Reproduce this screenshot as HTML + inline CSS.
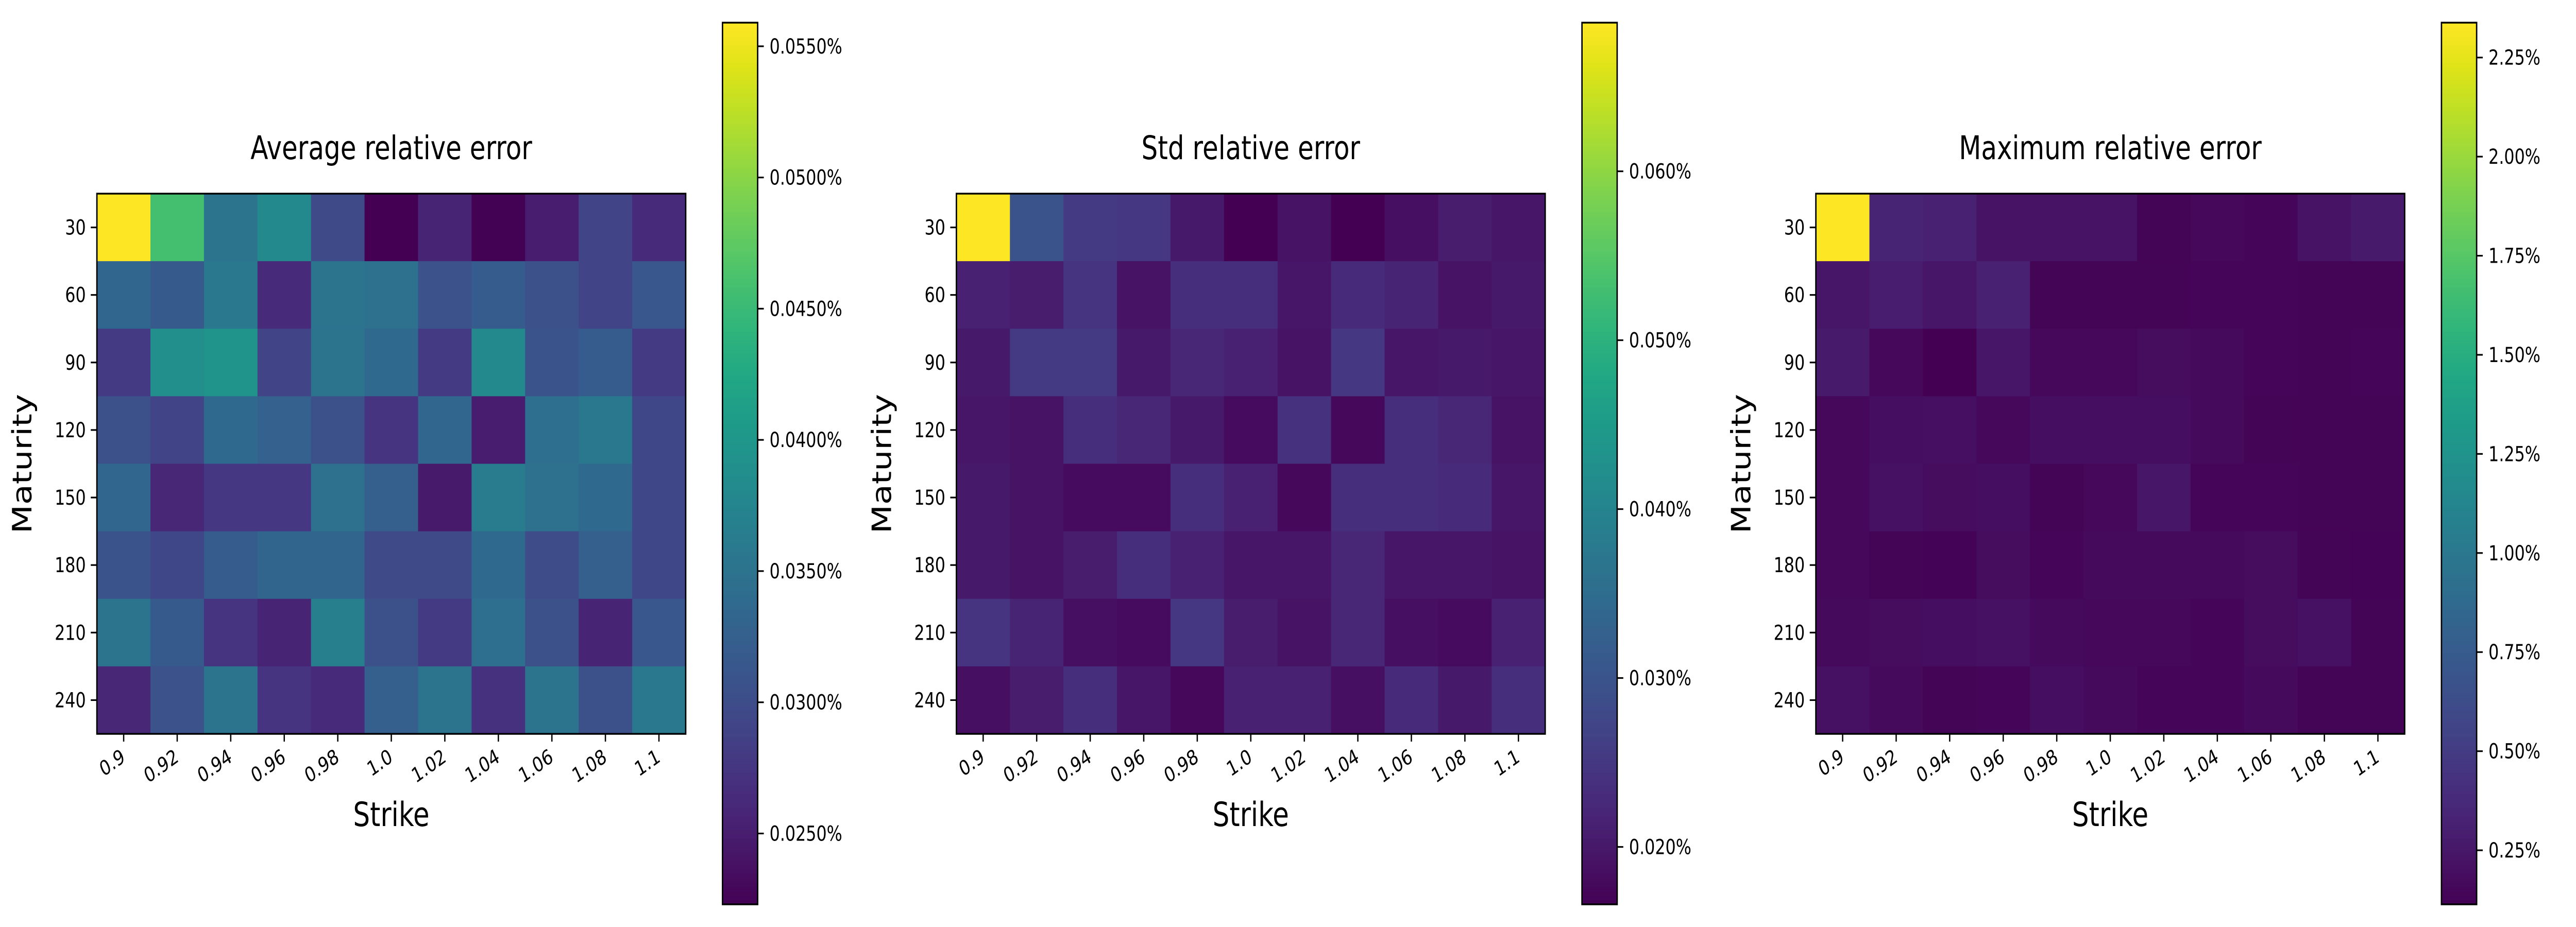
<!DOCTYPE html>
<html><head><meta charset="utf-8">
<meta name="viewport" content="width=device-width, initial-scale=1">
<style>
html,body{margin:0;padding:0;background:#fff;width:100%;height:100%;overflow:hidden;}
svg{display:block;width:100vw;height:100vh;}
text{font-family:"DejaVu Sans","Liberation Sans",sans-serif;fill:#000;}
</style></head>
<body>
<svg id="fig" viewBox="0 0 6300 1800" preserveAspectRatio="none" xmlns="http://www.w3.org/2000/svg"></svg>
<script>
const strikes = ["0.9","0.92","0.94","0.96","0.98","1.0","1.02","1.04","1.06","1.08","1.1"];
const maturities = ["30","60","90","120","150","180","210","240"];

const avgValues = [
 [0.0559,0.0458,0.0351,0.0381,0.0297,0.0223,0.0257,0.0224,0.0250,0.0290,0.0263],
 [0.0334,0.0317,0.0357,0.0263,0.0351,0.0347,0.0307,0.0320,0.0304,0.0290,0.0314],
 [0.0280,0.0388,0.0394,0.0290,0.0351,0.0337,0.0280,0.0381,0.0310,0.0320,0.0280],
 [0.0304,0.0290,0.0337,0.0327,0.0304,0.0273,0.0334,0.0250,0.0344,0.0357,0.0294],
 [0.0334,0.0260,0.0277,0.0277,0.0347,0.0324,0.0247,0.0361,0.0347,0.0337,0.0294],
 [0.0310,0.0294,0.0320,0.0331,0.0331,0.0297,0.0297,0.0337,0.0300,0.0324,0.0294],
 [0.0351,0.0317,0.0273,0.0257,0.0367,0.0304,0.0280,0.0344,0.0304,0.0257,0.0314],
 [0.0260,0.0307,0.0351,0.0273,0.0263,0.0324,0.0351,0.0270,0.0351,0.0304,0.0357]
];
const stdValues = [
 [0.0688,0.0301,0.0254,0.0249,0.0202,0.0166,0.0192,0.0166,0.0187,0.0207,0.0197],
 [0.0213,0.0207,0.0244,0.0192,0.0234,0.0234,0.0197,0.0228,0.0218,0.0192,0.0202],
 [0.0202,0.0254,0.0254,0.0202,0.0223,0.0213,0.0192,0.0249,0.0197,0.0202,0.0197],
 [0.0197,0.0192,0.0234,0.0223,0.0202,0.0181,0.0239,0.0176,0.0234,0.0223,0.0192],
 [0.0202,0.0192,0.0181,0.0181,0.0234,0.0213,0.0176,0.0234,0.0234,0.0228,0.0197],
 [0.0202,0.0192,0.0207,0.0234,0.0213,0.0197,0.0197,0.0223,0.0197,0.0197,0.0192],
 [0.0244,0.0218,0.0187,0.0181,0.0249,0.0207,0.0192,0.0223,0.0187,0.0181,0.0213],
 [0.0187,0.0207,0.0234,0.0197,0.0176,0.0213,0.0213,0.0187,0.0228,0.0202,0.0234]
];
const maxValues = [
 [2.338,0.336,0.314,0.225,0.225,0.225,0.136,0.158,0.147,0.225,0.269],
 [0.247,0.292,0.247,0.314,0.136,0.136,0.136,0.147,0.147,0.136,0.136],
 [0.269,0.158,0.1136,0.247,0.158,0.158,0.180,0.169,0.147,0.136,0.147],
 [0.158,0.191,0.203,0.158,0.191,0.191,0.191,0.169,0.136,0.136,0.136],
 [0.158,0.214,0.180,0.191,0.136,0.158,0.247,0.147,0.147,0.136,0.136],
 [0.158,0.136,0.125,0.180,0.147,0.169,0.169,0.169,0.180,0.136,0.125],
 [0.169,0.180,0.191,0.214,0.169,0.158,0.158,0.147,0.180,0.214,0.136],
 [0.214,0.169,0.136,0.147,0.191,0.169,0.147,0.147,0.169,0.136,0.136]
];
const avgTicks = [0.025,0.030,0.035,0.040,0.045,0.050,0.055];
const avgTickLabels = ["0.0250%","0.0300%","0.0350%","0.0400%","0.0450%","0.0500%","0.0550%"];
const stdTicks = [0.02,0.03,0.04,0.05,0.06];
const stdTickLabels = ["0.020%","0.030%","0.040%","0.050%","0.060%"];
const maxTicks = [0.25,0.5,0.75,1.0,1.25,1.5,1.75,2.0,2.25];
const maxTickLabels = ["0.25%","0.50%","0.75%","1.00%","1.25%","1.50%","1.75%","2.00%","2.25%"];
const titles = ["Average relative error","Std relative error","Maximum relative error"];

const VIR = ["#440154","#471365","#482475","#463480","#414487","#3b528b","#355f8d","#2f6c8e","#2a788e","#25848e","#21918c","#1e9c89","#22a884","#2fb47c","#44bf70","#5ec962","#7ad151","#9bd93c","#bddf26","#dfe318","#fde725"];
function hex(h){return [1,3,5].map(i=>parseInt(h.substr(i,2),16));}
const VIRRGB = VIR.map(hex);
function viridis(f){
  f=Math.max(0,Math.min(1,f));
  const p=f*(VIR.length-1), i=Math.min(Math.floor(p),VIR.length-2), t=p-i;
  const a=VIRRGB[i], b=VIRRGB[i+1];
  return "rgb("+a.map((v,k)=>Math.round(v+(b[k]-v)*t)).join(",")+")";
}
const NS="http://www.w3.org/2000/svg";
const svg=document.getElementById("fig");
function mk(tag,attrs,parent){const e=document.createElementNS(NS,tag);for(const k in attrs)e.setAttribute(k,attrs[k]);(parent||svg).appendChild(e);return e;}

const panels=[
 {data:avgValues,ticks:avgTicks,labels:avgTickLabels,left:237,cbx:1767,key:"average"},
 {data:stdValues,ticks:stdTicks,labels:stdTickLabels,left:2339,cbx:3869,key:"std"},
 {data:maxValues,ticks:maxTicks,labels:maxTickLabels,left:4441,cbx:5971,key:"maximum"}
];
const TOP=376, W=1440, H=1049, CBT=44, CBB=1756, CBW=86;

panels.forEach((P,pi)=>{
  const g=mk("g",{});
  
  
  const flat=P.data.flat();
  const vmin=Math.min(...flat), vmax=Math.max(...flat);
  const cw=W/strikes.length, ch=H/maturities.length;
  const xPos=i=>P.left+i*cw, yPos=j=>TOP+j*ch;
  P.data.forEach((row,j)=>row.forEach((v,i)=>{
    const r=mk("rect",{x:xPos(i),y:yPos(j),width:cw+0.6,height:ch+0.6,fill:viridis((v-vmin)/(vmax-vmin))},g);
    
    
  }));
  const fr=mk("rect",{x:P.left,y:TOP,width:W,height:H,fill:"none",stroke:"#000","stroke-width":3.4},g);
  
  
  strikes.forEach((s,i)=>{
    const x=xPos(i)+cw/2;
    mk("line",{x1:x,y1:TOP+H,x2:x,y2:TOP+H+15,stroke:"#000","stroke-width":3.2},g);
    const t=mk("text",{x:0,y:0,"font-size":40,"text-anchor":"end",transform:`translate(${x+6},${TOP+H+52}) rotate(-30)`},g);
    t.textContent=s;
    
    
  });
  maturities.forEach((m,j)=>{
    const y=yPos(j)+ch/2;
    mk("line",{x1:P.left-15,y1:y,x2:P.left,y2:y,stroke:"#000","stroke-width":3.2},g);
    const t=mk("text",{x:P.left-27,y:y+14,"font-size":40,"text-anchor":"end"},g);
    t.textContent=m;
    
    
  });
  const tt=mk("text",{x:P.left+W/2,y:309,"font-size":63,"text-anchor":"middle"},g);
  tt.textContent=titles[pi];
  
  
  const xl=mk("text",{x:P.left+W/2,y:1604,"font-size":65,"text-anchor":"middle"},g);
  xl.textContent="Strike";
  
  
  const yl=mk("text",{x:0,y:0,"font-size":65,"text-anchor":"middle",transform:`translate(${P.left-160},${TOP+H/2}) rotate(-90)`},g);
  yl.textContent="Maturity";
  
  
  const cb=mk("g",{},g);
  
  
  const N=200, sh=(CBB-CBT)/N;
  for(let k=0;k<N;k++){
    mk("rect",{x:P.cbx,y:CBB-(k+1)*sh,width:CBW,height:sh+0.8,fill:viridis((k+0.5)/N)},cb);
  }
  mk("rect",{x:P.cbx,y:CBT,width:CBW,height:CBB-CBT,fill:"none",stroke:"#000","stroke-width":3.4},cb);
  P.ticks.forEach((v,k)=>{
    const y=CBB-(v-vmin)/(vmax-vmin)*(CBB-CBT);
    mk("line",{x1:P.cbx+CBW,y1:y,x2:P.cbx+CBW+15,y2:y,stroke:"#000","stroke-width":3.2},cb);
    const t=mk("text",{x:P.cbx+CBW+29,y:y+14,"font-size":40},cb);
    t.textContent=P.labels[k];
    
    
  });
});
</script>
</body></html>
